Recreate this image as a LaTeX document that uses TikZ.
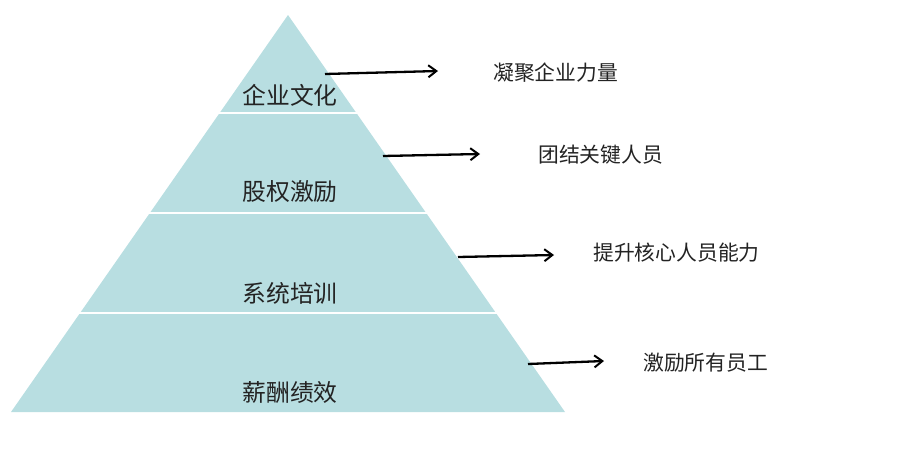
\documentclass[tikz,border=0pt]{standalone}
\usepackage{fontspec}
\setmainfont{Noto Sans CJK SC}
\usetikzlibrary{arrows.meta}
\definecolor{pyr}{RGB}{184,222,225}
\definecolor{txt}{RGB}{35,35,35}
\tikzset{
  layerlabel/.style={inner sep=0pt, font=\fontsize{23.8}{26}\selectfont, text=txt},
  sidelabel/.style={inner sep=0pt, anchor=west, font=\fontsize{20.8}{23}\selectfont, text=txt},
  pointer/.style={line width=2.3pt, -{Straight Barb[length=8pt,width=12pt,line width=2pt]}},
  divider/.style={white, line width=2.6pt}
}
\begin{document}
\begin{tikzpicture}[x=1pt,y=-1pt]
\useasboundingbox (0,0) rectangle (903,450);
% pyramid
\fill[pyr] (11,412) -- (288,15) -- (565,412) -- cycle;
\draw[divider] (0,113) -- (600,113);
\draw[divider] (0,213) -- (600,213);
\draw[divider] (0,313) -- (600,313);
% layer labels
\node[layerlabel] (l1) at (290,95) {企业文化};
\node[layerlabel] (l2) at (290,192) {股权激励};
\node[layerlabel] (l3) at (290,293) {系统培训};
\node[layerlabel] (l4) at (290,392) {薪酬绩效};
% side labels
\node[sidelabel] (r1) at (493,73) {凝聚企业力量};
\node[sidelabel] (r2) at (538,155) {团结关键人员};
\node[sidelabel] (r3) at (593,253) {提升核心人员能力};
\node[sidelabel] (r4) at (643,363) {激励所有员工};
% arrows
\coordinate (s1) at (325,74);  \coordinate (e1) at (438,71);
\coordinate (s2) at (383,156); \coordinate (e2) at (480,154);
\coordinate (s3) at (458,257); \coordinate (e3) at (554,255);
\coordinate (s4) at (528,364); \coordinate (e4) at (604,361);
\draw[pointer] (s1) -- (e1);
\draw[pointer] (s2) -- (e2);
\draw[pointer] (s3) -- (e3);
\draw[pointer] (s4) -- (e4);
\end{tikzpicture}
\end{document}
